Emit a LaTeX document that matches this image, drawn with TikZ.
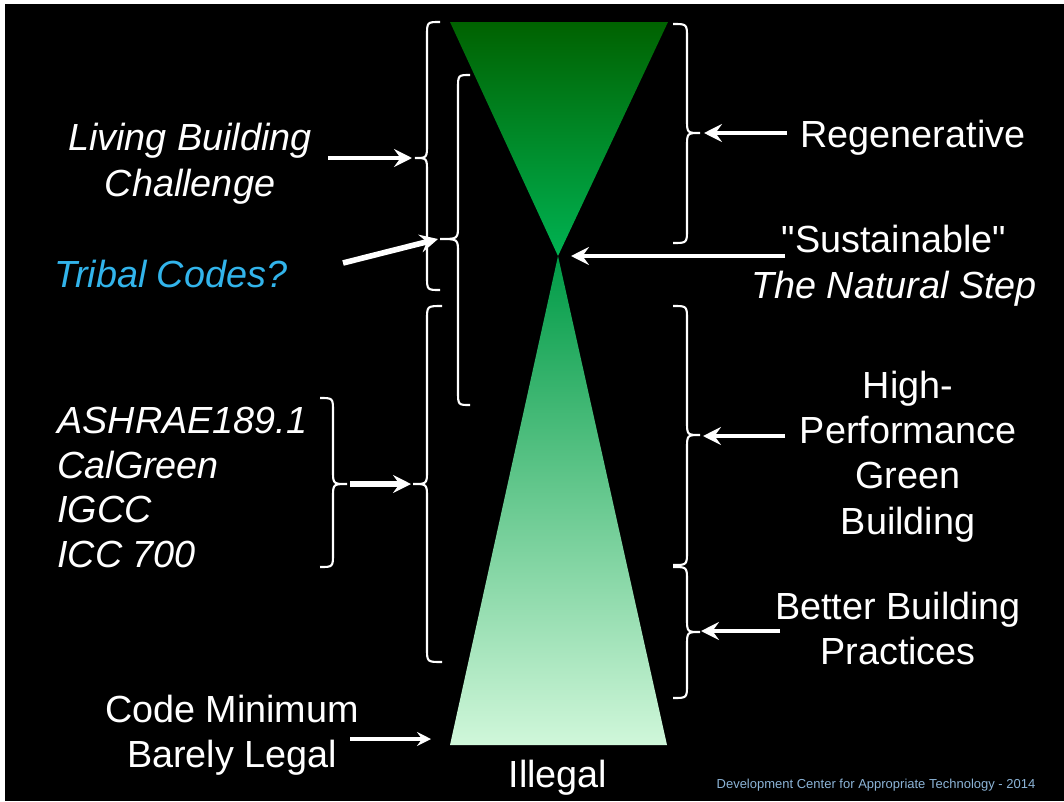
\documentclass[tikz,border=0pt]{standalone}
\usepackage{fontspec}
\setmainfont{Liberation Sans}[Ligatures=TeXOff]
\usetikzlibrary{arrows.meta}
\definecolor{tribal}{RGB}{50,180,235}
\definecolor{footer}{RGB}{140,180,215}
\definecolor{topdark}{RGB}{0,98,0}
\definecolor{topbright}{RGB}{0,178,82}
\definecolor{botdark}{RGB}{0,155,70}
\definecolor{botlight}{RGB}{208,247,218}
\newcommand\mybrace[6]{% xends, xvert, xtip, ytop, ytip, ybottom
  \draw[bracestyle] (#1,#4) .. controls (#2,#4) .. (#2,#4+14) -- (#2,#5-14)
    .. controls (#2,#5) .. (#3,#5) .. controls (#2,#5) .. (#2,#5+14)
    -- (#2,#6-14) .. controls (#2,#6) .. (#1,#6);}
\begin{document}
\begin{tikzpicture}[x=0.02cm,y=-0.02cm,
  bracestyle/.style={white,line width=1.2pt},
  bigarrow/.style={white,line width=2.8pt,-{Stealth[length=0.36cm,width=0.36cm,inset=0.13cm]}},
  thinarrow/.style={white,line width=2pt,-{Stealth[length=0.28cm,width=0.28cm,inset=0.1cm]}},
  lbl/.style={text=white,font=\fontsize{21.5pt}{26pt}\selectfont,inner sep=0pt,anchor=base,align=center},
  ilbl/.style={lbl,font=\fontsize{21.5pt}{26pt}\selectfont\itshape},
  llbl/.style={ilbl,align=left,anchor=base west}]
\useasboundingbox (0,0) rectangle (1064,801);
\fill[white] (0,0) rectangle (1064,801);
\fill[black] (5,4) rectangle (1064,801);
% triangles
\shade[top color=topdark,bottom color=topbright] (450,22) -- (668,22) -- (558,256) -- cycle;
\shade[top color=botdark,bottom color=botlight] (558,256) -- (667,745) -- (450,745) -- cycle;
% braces
\mybrace{440}{427}{415}{22}{158}{290}
\mybrace{470}{458}{440}{75}{239}{405}
\mybrace{442}{427}{413}{306}{484}{662}
\mybrace{320}{333}{347}{398}{484}{567}
\mybrace{673}{687}{700}{24}{133}{243}
\mybrace{673}{687}{700}{306}{435}{565}
\mybrace{673}{687}{700}{567}{632}{698}
% brace tip coordinates
\coordinate (tipLBC) at (412,158);
\coordinate (tipTribal) at (438,239);
\coordinate (tipCodes) at (411,484);
\coordinate (tipSmall) at (350,484);
\coordinate (tipRegen) at (704,133);
\coordinate (apex) at (571,256);
\coordinate (tipHPGB) at (703,436);
\coordinate (tipBBP) at (701,631);
\coordinate (baseL) at (431,739);
% arrow starts
\coordinate (sLBC) at (328,158);
\coordinate (sTribal) at (343,263);
\coordinate (sRegen) at (787,133);
\coordinate (sSust) at (785,256);
\coordinate (sHPGB) at (785,436);
\coordinate (sBBP) at (780,631);
\coordinate (sCode) at (350,739);
% labels (base anchor = baseline of the last line)
\node[ilbl] (lbc) at (190,196) {Living Building\\Challenge};
\node[ilbl,text=tribal] (tribal) at (171,287) {Tribal Codes?};
\node[llbl] (codes) at (57,567) {ASHRAE189.1\\[-0.7pt]CalGreen\\[-0.7pt]IGCC\\[-0.7pt]ICC 700};
\node[lbl] (regen) at (913,147) {Regenerative};
\node[lbl] (sust) at (894,298) {"Sustainable"\\\itshape The Natural Step};
\node[lbl] (hpgb) at (908,534) {High-\\[-0.3pt]Performance\\[-0.3pt]Green\\[-0.3pt]Building};
\node[lbl] (bbp) at (898,664) {Better Building\\[-0.5pt]Practices};
\node[lbl] (code) at (232,767) {Code Minimum\\[-0.5pt]Barely Legal};
\node[lbl] (illegal) at (558,787) {Illegal};
\node[text=footer,font=\fontsize{7.4pt}{9pt}\selectfont,inner sep=0pt,anchor=base] (foot) at (876,788) {Development Center for Appropriate Technology - 2014};
% arrows
\draw[bigarrow] (sLBC) -- (tipLBC);
\draw[bigarrow,line width=3.2pt] (sTribal) -- (tipTribal);
\draw[bigarrow,line width=3.2pt] (tipSmall) -- (tipCodes);
\draw[bigarrow] (sRegen) -- (tipRegen);
\draw[bigarrow] (sSust) -- (apex);
\draw[bigarrow] (sHPGB) -- (tipHPGB);
\draw[bigarrow] (sBBP) -- (tipBBP);
\draw[thinarrow] (sCode) -- (baseL);
\end{tikzpicture}
\end{document}
